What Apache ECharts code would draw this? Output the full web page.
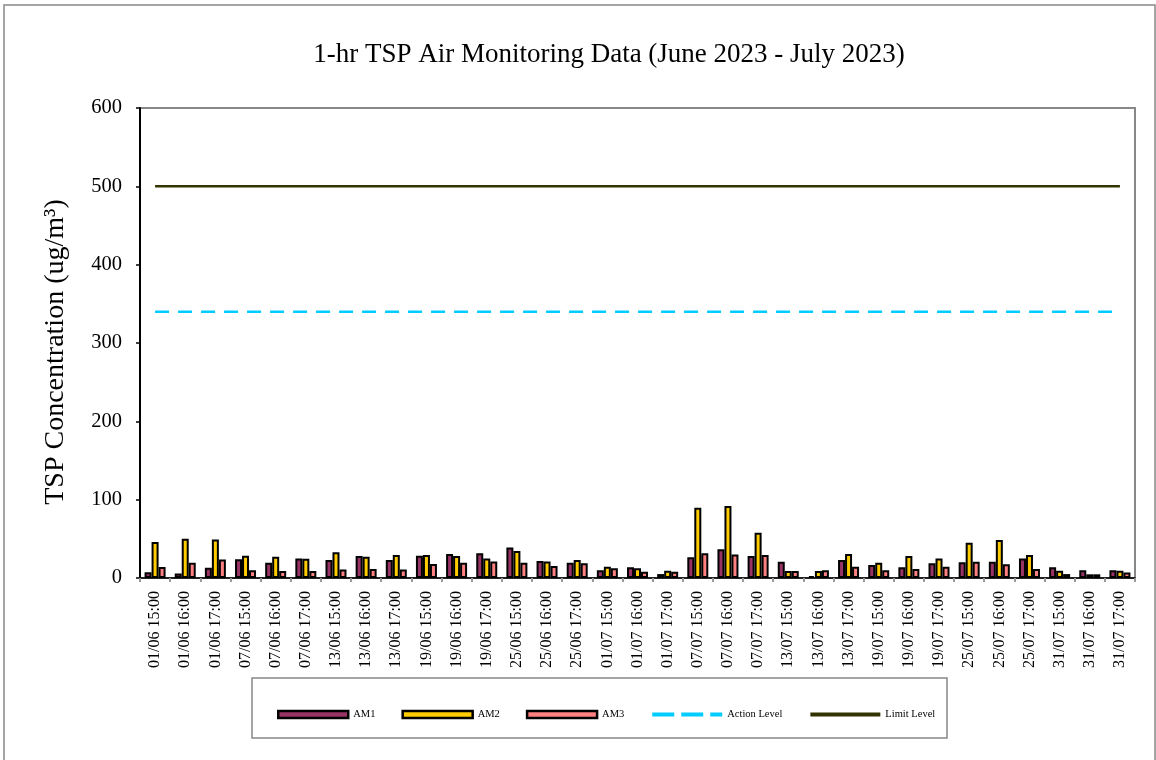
<!DOCTYPE html>
<html>
<head>
<meta charset="utf-8">
<script src="https://cdn.jsdelivr.net/npm/echarts@6/dist/echarts.min.js"></script>
<style>
html,body{margin:0;padding:0;background:#fff;}
#chart{width:1156px;height:760px;}
</style>
</head>
<body>
<div id="chart"></div>
<script>
const categories = ["01/06 15:00","01/06 16:00","01/06 17:00","07/06 15:00","07/06 16:00","07/06 17:00","13/06 15:00","13/06 16:00","13/06 17:00","19/06 15:00","19/06 16:00","19/06 17:00","25/06 15:00","25/06 16:00","25/06 17:00","01/07 15:00","01/07 16:00","01/07 17:00","07/07 15:00","07/07 16:00","07/07 17:00","13/07 15:00","13/07 16:00","13/07 17:00","19/07 15:00","19/07 16:00","19/07 17:00","25/07 15:00","25/07 16:00","25/07 17:00","31/07 15:00","31/07 16:00","31/07 17:00"];
const am1 = [7.5,5.6,13,24,19.5,25,23,28,23,28.5,30.6,31.5,39,21.7,19.5,10,13.6,5,26.4,36.6,28,20.8,2.5,23,16.6,13.6,18.7,20,20.8,25,13.6,10,10];
const am2 = [46,50,49,28.5,27,24.5,33,27,29.5,29.5,28,25,34.5,21,23,14.5,12.3,9.4,89.8,92,57.8,9,9,30.6,19.6,28,25,45,48.5,29.4,9.4,4.7,9.4];
const am3 = [14,19.5,23.5,10,9,9,11,11.5,11,18,19.5,21,19.5,15.3,18.7,12.3,8,8,31.5,30,29.4,9,10,14.5,10,11.5,14.5,20.8,17.5,11.5,5,4.7,7];
const actionLevel = [340,340,340,340,340,340,340,340,340,340,340,340,340,340,340,340,340,340,340,340,340,340,340,340,340,340,340,340,340,340,340,340,340];
const limitLevel = [500,500,500,500,500,500,500,500,500,500,500,500,500,500,500,500,500,500,500,500,500,500,500,500,500,500,500,500,500,500,500,500,500];
const yTicks = [0,100,200,300,400,500,600];

const FONT = "'Liberation Serif','Times New Roman',serif";
const chart = echarts.init(document.getElementById('chart'), null, {renderer:'canvas'});
function barSeries(name, data, color){
  return {
    name: name, type: 'bar', data: data, barWidth: 7, barGap: '0%',
    itemStyle: {color: color, borderColor: '#000', borderWidth: 2},
    animation: false
  };
}
const noSym = {color:'rgba(0,0,0,0)', borderColor:'rgba(0,0,0,0)', borderWidth:0, opacity:0};
chart.setOption({
  animation: false,
  backgroundColor: '#fff',
  title: {
    text: '1-hr TSP Air Monitoring Data (June 2023 - July 2023)',
    left: 604, top: 36, textAlign: 'center',
    textStyle: {fontFamily: FONT, fontSize: 27, fontWeight: 'normal', color: '#000'}
  },
  graphic: [
    {type:'rect', shape:{x:4, y:5, width:1151, height:800}, style:{fill:'none', stroke:'#888', lineWidth:1.5}, silent:true, z:-1},
    {type:'rect', shape:{x:252, y:678, width:695, height:60}, style:{fill:'#fff', stroke:'#888', lineWidth:1.5}, silent:true, z:-1}
  ],
  legend: {
    left: 272, top: 704,
    itemWidth: 70, itemHeight: 7, itemGap: 26,
    textStyle: {fontFamily: FONT, fontSize: 10.5, color: '#000'},
    data: [
      {name:'AM1', icon:'rect', itemStyle:{borderWidth:2.5}},
      {name:'AM2', icon:'rect', itemStyle:{borderWidth:2.5}},
      {name:'AM3', icon:'rect', itemStyle:{borderWidth:2.5}},
      {name:'Action Level', itemStyle: noSym, lineStyle:{width:4, type:[22,7]}},
      {name:'Limit Level', itemStyle: noSym, lineStyle:{width:4}}
    ]
  },
  grid: {
    left: 140, right: 21, top: 108, bottom: 182,
    show: true, borderColor: '#888', borderWidth: 2, backgroundColor: 'transparent'
  },
  xAxis: {
    type: 'category', data: categories, boundaryGap: true,
    axisLine: {show: true, lineStyle: {color: '#000', width: 1.5}},
    axisTick: {show: true, length: 4, lineStyle: {color: '#999', width: 2}},
    axisLabel: {rotate: 90, interval: 0, margin: 13, fontFamily: FONT, fontSize: 16, color: '#000'},
    splitLine: {show: false}
  },
  yAxis: {
    type: 'value', min: yTicks[0], max: yTicks[yTicks.length-1], interval: 100,
    name: 'TSP Concentration (ug/m³)', nameLocation: 'middle', nameGap: 70,
    nameTextStyle: {fontFamily: FONT, fontSize: 28, color: '#000', padding:[0,18,0,0]},
    axisLine: {show: true, lineStyle: {color: '#000', width: 2}},
    axisTick: {show: true, inside: false, length: 4, lineStyle: {color: '#000', width: 1.5}},
    axisLabel: {fontFamily: FONT, fontSize: 20.5, color: '#000', margin: 18},
    splitLine: {show: false}
  },
  series: [
    barSeries('AM1', am1, '#993366'),
    barSeries('AM2', am2, '#FFCC00'),
    barSeries('AM3', am3, '#FF8080'),
    {name:'Action Level', type:'line', data: actionLevel, symbol:'none', showSymbol:false,
     lineStyle:{color:'#00CCFF', width:2.5, type:[14,9]}, itemStyle:{color:'#00CCFF'}, z:3},
    {name:'Limit Level', type:'line', data: limitLevel, symbol:'none', showSymbol:false,
     lineStyle:{color:'#333300', width:2.5, type:'solid'}, itemStyle:{color:'#333300'}, z:3}
  ]
});
</script>
</body>
</html>
